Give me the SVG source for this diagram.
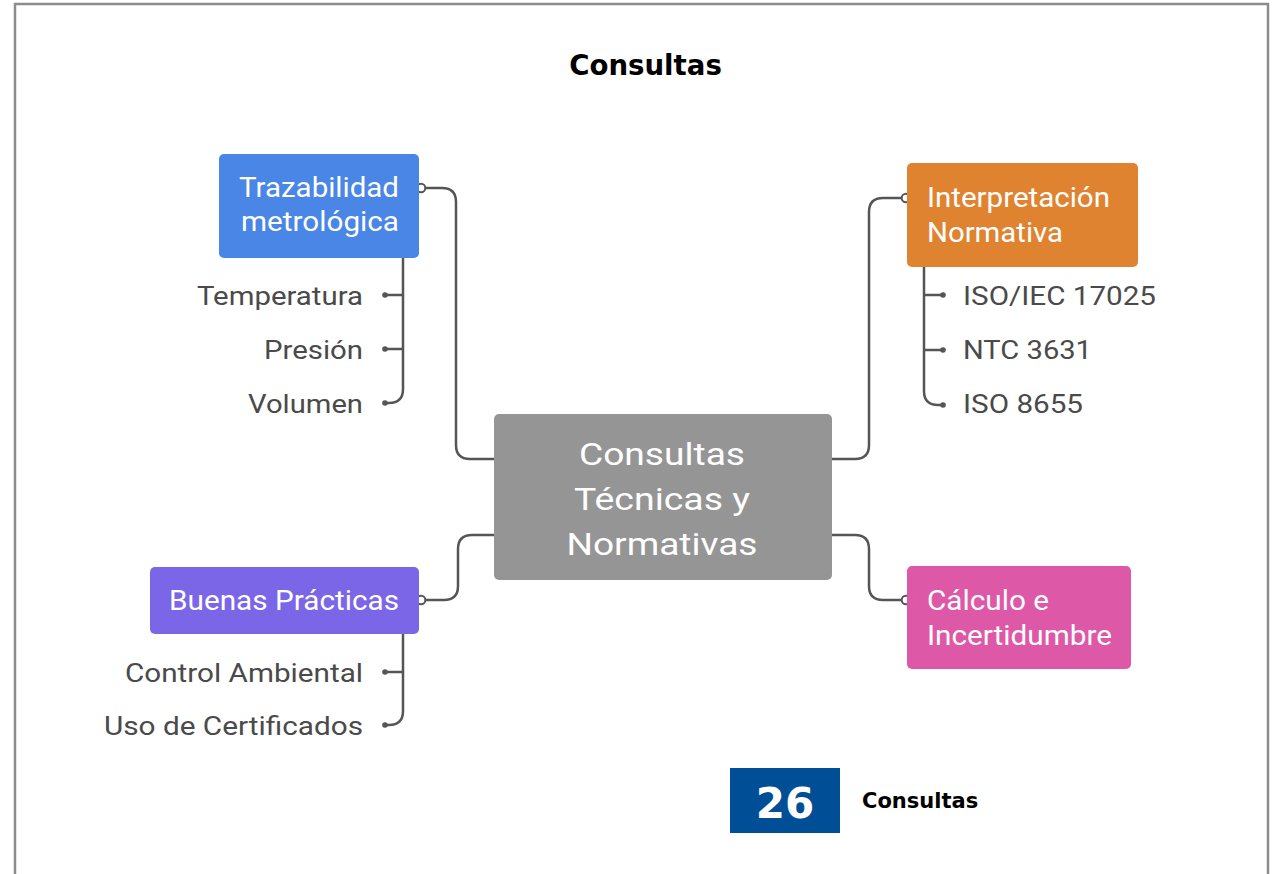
<svg xmlns="http://www.w3.org/2000/svg" width="1274" height="874" viewBox="0 0 1274 874">
<style>
.frame{fill:#fff;stroke:#8c8c8c;stroke-width:2.5}
.title{font-family:"DejaVu Sans",Verdana,sans-serif;font-weight:bold;fill:#000}
.ntext{font-family:Roboto,"Liberation Sans",sans-serif;fill:#fff;font-size:27px}
.ctext{font-family:Roboto,"Liberation Sans",sans-serif;fill:#fff;font-size:31px}
.leaf{font-family:Roboto,"Liberation Sans",sans-serif;fill:#4a4a4a;font-size:25.5px}
.conn{fill:none;stroke:#555;stroke-width:2.5;stroke-linecap:round}
.open{fill:#fff;stroke:#555;stroke-width:2}
.dot{fill:#555}
</style>
<rect x="0" y="0" width="1274" height="874" fill="#fff"/>
<rect class="frame" x="15" y="4" width="1253" height="884"/>
<text class="title" x="645.5" y="75" font-size="27.6" text-anchor="middle">Consultas</text>

<g id="connectors">
  <path class="conn" d="M494,459 H470 Q456,459 456,445 V202 Q456,188 442,188 H425"/>
  <path class="conn" d="M403,258 V389 Q403,403 389,403 H385 M403,295 H385 M403,349 H385"/>
  <path class="conn" d="M832,459 H855 Q869,459 869,445 V212 Q869,198 883,198 H902"/>
  <path class="conn" d="M924,267 V391 Q924,405 938,405 H943 M924,295 H943 M924,350 H943"/>
  <path class="conn" d="M494,535 H472 Q458,535 458,549 V586 Q458,600 444,600 H425"/>
  <path class="conn" d="M403,634 V711 Q403,725 389,725 H385 M403,672 H385"/>
  <path class="conn" d="M832,535 H855 Q869,535 869,549 V586 Q869,600 883,600 H902"/>
  <circle class="open" cx="421" cy="188" r="4.3"/>
  <circle class="open" cx="906" cy="198" r="4.3"/>
  <circle class="open" cx="421" cy="600" r="4.3"/>
  <circle class="open" cx="906" cy="600" r="4.3"/>
  <circle class="dot" cx="385" cy="295" r="2.8"/>
  <circle class="dot" cx="385" cy="349" r="2.8"/>
  <circle class="dot" cx="385" cy="403" r="2.8"/>
  <circle class="dot" cx="943" cy="295" r="2.8"/>
  <circle class="dot" cx="943" cy="350" r="2.8"/>
  <circle class="dot" cx="943" cy="405" r="2.8"/>
  <circle class="dot" cx="385" cy="672" r="2.8"/>
  <circle class="dot" cx="385" cy="725" r="2.8"/>
</g>

<g id="center">
  <rect x="494" y="414" width="338" height="166" rx="5" fill="#959595"/>
  <text class="ctext" x="662" y="465" text-anchor="middle" textLength="166" lengthAdjust="spacingAndGlyphs">Consultas</text>
  <text class="ctext" x="662" y="510" text-anchor="middle" textLength="176" lengthAdjust="spacingAndGlyphs">Técnicas y</text>
  <text class="ctext" x="662" y="555" text-anchor="middle" textLength="191" lengthAdjust="spacingAndGlyphs">Normativas</text>
</g>

<g id="trazabilidad">
  <rect x="219" y="154" width="200" height="104" rx="5" fill="#4a86e6"/>
  <text class="ntext" x="319" y="197" text-anchor="middle" textLength="160" lengthAdjust="spacingAndGlyphs">Trazabilidad</text>
  <text class="ntext" x="320" y="231" text-anchor="middle" textLength="158" lengthAdjust="spacingAndGlyphs">metrológica</text>
</g>
<g id="temperatura"><text class="leaf" x="363" y="305" text-anchor="end" textLength="166" lengthAdjust="spacingAndGlyphs">Temperatura</text></g>
<g id="presion"><text class="leaf" x="363" y="359" text-anchor="end" textLength="99" lengthAdjust="spacingAndGlyphs">Presión</text></g>
<g id="volumen"><text class="leaf" x="363" y="413" text-anchor="end" textLength="115" lengthAdjust="spacingAndGlyphs">Volumen</text></g>

<g id="interpretacion">
  <rect x="907" y="163" width="231" height="104" rx="5" fill="#df8331"/>
  <text class="ntext" x="927" y="207" textLength="183" lengthAdjust="spacingAndGlyphs">Interpretación</text>
  <text class="ntext" x="927" y="242" textLength="136" lengthAdjust="spacingAndGlyphs">Normativa</text>
</g>
<g id="iso17025"><text class="leaf" x="963" y="305" textLength="193" lengthAdjust="spacingAndGlyphs">ISO/IEC 17025</text></g>
<g id="ntc3631"><text class="leaf" x="963" y="359" textLength="129" lengthAdjust="spacingAndGlyphs">NTC 3631</text></g>
<g id="iso8655"><text class="leaf" x="963" y="413" textLength="120" lengthAdjust="spacingAndGlyphs">ISO 8655</text></g>

<g id="buenas">
  <rect x="150" y="567" width="269" height="67" rx="5" fill="#7b66e8"/>
  <text class="ntext" x="284" y="610" text-anchor="middle" textLength="230" lengthAdjust="spacingAndGlyphs">Buenas Prácticas</text>
</g>
<g id="control"><text class="leaf" x="363" y="682" text-anchor="end" textLength="238" lengthAdjust="spacingAndGlyphs">Control Ambiental</text></g>
<g id="certificados"><text class="leaf" x="363" y="735" text-anchor="end" textLength="259" lengthAdjust="spacingAndGlyphs">Uso de Certificados</text></g>

<g id="calculo">
  <rect x="907" y="566" width="224" height="103" rx="5" fill="#de58a8"/>
  <text class="ntext" x="927" y="610" textLength="122" lengthAdjust="spacingAndGlyphs">Cálculo e</text>
  <text class="ntext" x="927" y="645" textLength="185" lengthAdjust="spacingAndGlyphs">Incertidumbre</text>
</g>

<g id="footer">
  <rect x="730" y="768" width="110" height="65" fill="#004f96"/>
  <text class="title" x="785" y="818" font-size="42" text-anchor="middle" style="fill:#fff">26</text>
  <text class="title" x="862" y="808" font-size="21">Consultas</text>
</g>
</svg>
